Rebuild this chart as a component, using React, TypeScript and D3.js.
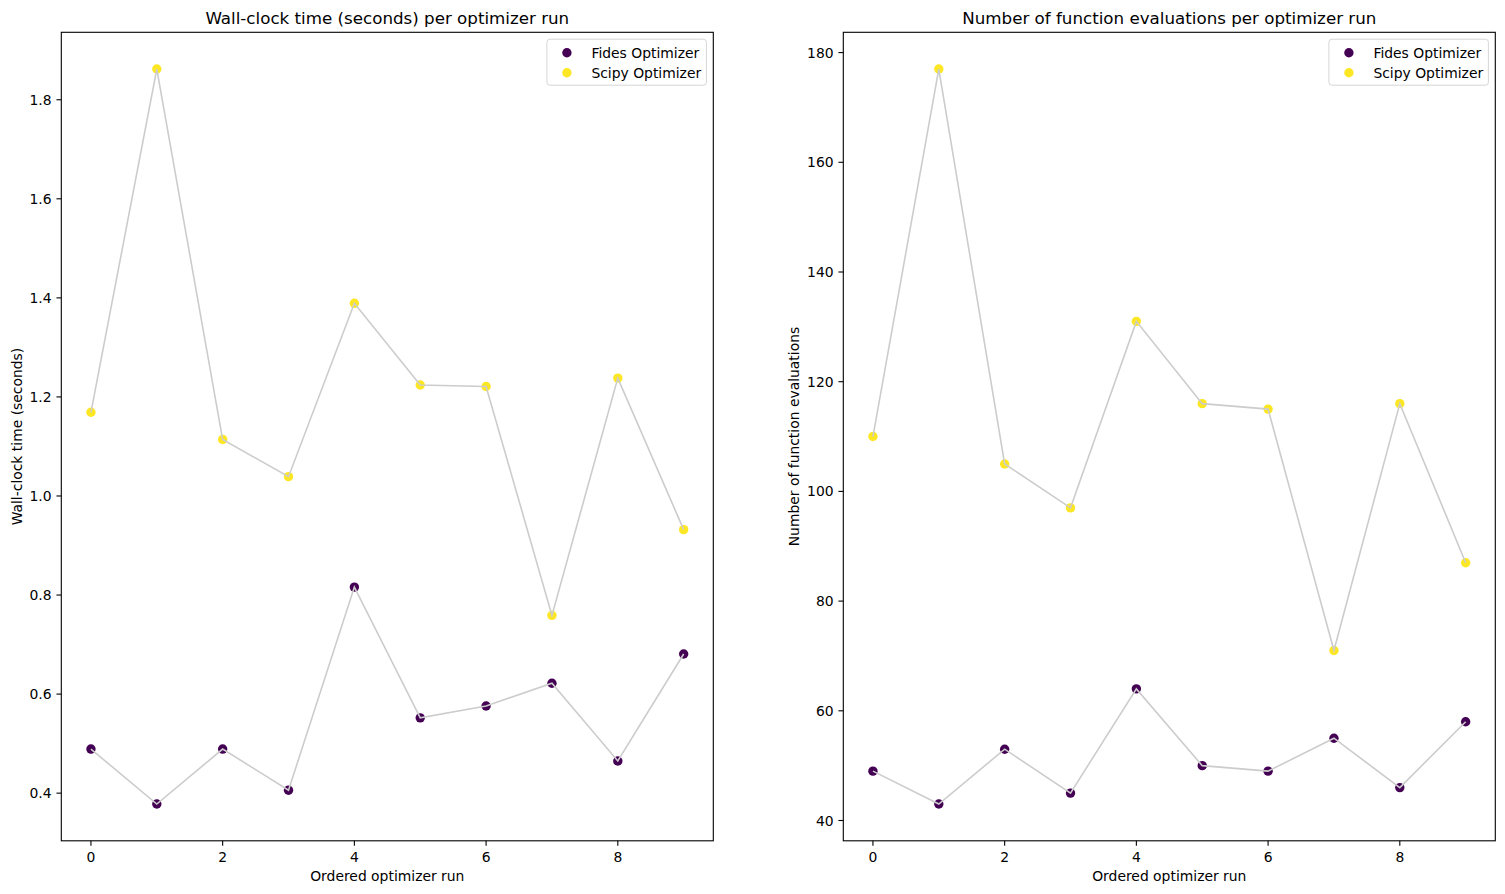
import React, { useEffect, useRef } from "react";
import * as d3 from "d3";

const runs = [0, 1, 2, 3, 4, 5, 6, 7, 8, 9];

const fidesTime = [0.489, 0.378, 0.489, 0.406, 0.816, 0.552, 0.576, 0.622, 0.465, 0.681];
const scipyTime = [1.169, 1.862, 1.114, 1.039, 1.389, 1.224, 1.221, 0.759, 1.238, 0.932];

const fidesEvals = [49, 43, 53, 45, 64, 50, 49, 55, 46, 58];
const scipyEvals = [110, 177, 105, 97, 131, 116, 115, 71, 116, 87];

const xTicks = [0, 2, 4, 6, 8];
const timeTicks = [0.4, 0.6, 0.8, 1.0, 1.2, 1.4, 1.6, 1.8];
const evalTicks = [40, 60, 80, 100, 120, 140, 160, 180];

const seriesNames = ["Fides Optimizer", "Scipy Optimizer"];
const seriesColors = ["#440154", "#fde725"];

const FONT = "DejaVu Sans, sans-serif";

const Chart = () => {
  const svgRef = useRef();

  useEffect(() => {
    const width = 1505;
    const height = 894;
    const svg = d3.select(svgRef.current);
    svg.selectAll("*").remove();
    svg.attr("width", width).attr("height", height).style("font-family", FONT);

    svg.append("rect").attr("width", width).attr("height", height).attr("fill", "white");

    const panels = [
      {
        left: 61.3,
        right: 713.3,
        title: "Wall-clock time (seconds) per optimizer run",
        ylabel: "Wall-clock time (seconds)",
        ylabelX: 16.5,
        series: [fidesTime, scipyTime],
        ticks: timeTicks,
        fmt: d3.format(".1f"),
      },
      {
        left: 843.3,
        right: 1495.3,
        title: "Number of function evaluations per optimizer run",
        ylabel: "Number of function evaluations",
        ylabelX: 793.5,
        series: [fidesEvals, scipyEvals],
        ticks: evalTicks,
        fmt: d3.format("d"),
      },
    ];

    const top = 32.3;
    const bottom = 840.8;
    const tickLen = 4.86;
    const pad = 4.86;
    const dotR = 4.7;

    panels.forEach((p) => {
      const g = svg.append("g");

      // matplotlib-like 5% margins around the data
      const all = p.series.flat();
      const [lo, hi] = d3.extent(all);
      const m = (hi - lo) * 0.05;

      const x = d3.scaleLinear().domain([-0.45, 9.45]).range([p.left, p.right]);
      const y = d3.scaleLinear().domain([lo - m, hi + m]).range([bottom, top]);

      // scatter points first, connecting lines drawn over them
      p.series.forEach((vals, i) => {
        g.append("g")
          .selectAll("circle")
          .data(vals)
          .enter()
          .append("circle")
          .attr("cx", (d, j) => x(runs[j]))
          .attr("cy", (d) => y(d))
          .attr("r", dotR)
          .attr("fill", seriesColors[i]);
      });

      const line = d3
        .line()
        .x((d, j) => x(runs[j]))
        .y((d) => y(d));

      p.series.forEach((vals) => {
        g.append("path")
          .datum(vals)
          .attr("d", line)
          .attr("fill", "none")
          .attr("stroke", "#cccccc")
          .attr("stroke-width", 1.6);
      });

      // frame
      g.append("rect")
        .attr("x", p.left)
        .attr("y", top)
        .attr("width", p.right - p.left)
        .attr("height", bottom - top)
        .attr("fill", "none")
        .attr("stroke", "black")
        .attr("stroke-width", 1.1);

      // x ticks
      xTicks.forEach((t) => {
        g.append("line")
          .attr("x1", x(t))
          .attr("x2", x(t))
          .attr("y1", bottom)
          .attr("y2", bottom + tickLen)
          .attr("stroke", "black")
          .attr("stroke-width", 1.1);
        g.append("text")
          .attr("x", x(t))
          .attr("y", bottom + tickLen + pad + 11)
          .attr("text-anchor", "middle")
          .attr("font-size", 13.9)
          .text(t);
      });

      // y ticks
      p.ticks.forEach((t) => {
        g.append("line")
          .attr("x1", p.left - tickLen)
          .attr("x2", p.left)
          .attr("y1", y(t))
          .attr("y2", y(t))
          .attr("stroke", "black")
          .attr("stroke-width", 1.1);
        g.append("text")
          .attr("x", p.left - tickLen - pad)
          .attr("y", y(t))
          .attr("dy", "0.36em")
          .attr("text-anchor", "end")
          .attr("font-size", 13.9)
          .text(p.fmt(t));
      });

      // titles and labels
      g.append("text")
        .attr("x", (p.left + p.right) / 2)
        .attr("y", top - 8.3)
        .attr("text-anchor", "middle")
        .attr("font-size", 16.7)
        .text(p.title);

      g.append("text")
        .attr("x", (p.left + p.right) / 2)
        .attr("y", 880.5)
        .attr("text-anchor", "middle")
        .attr("font-size", 13.9)
        .text("Ordered optimizer run");

      g.append("text")
        .attr("transform", `translate(${p.ylabelX},${(top + bottom) / 2}) rotate(-90)`)
        .attr("dy", "0.36em")
        .attr("text-anchor", "middle")
        .attr("font-size", 13.9)
        .text(p.ylabel);

      // legend, upper right
      const lw = 159.5;
      const lh = 46;
      const lx = p.right - 6.9 - lw;
      const ly = top + 6.9;
      const leg = g.append("g").attr("transform", `translate(${lx},${ly})`);
      leg
        .append("rect")
        .attr("width", lw)
        .attr("height", lh)
        .attr("rx", 3)
        .attr("fill", "white")
        .attr("fill-opacity", 0.8)
        .attr("stroke", "#d6d6d6")
        .attr("stroke-width", 1);
      seriesNames.forEach((name, i) => {
        const cy = 13.6 + i * 20;
        leg
          .append("circle")
          .attr("cx", 20)
          .attr("cy", cy)
          .attr("r", dotR)
          .attr("fill", seriesColors[i]);
        leg
          .append("text")
          .attr("x", 44.5)
          .attr("y", cy)
          .attr("dy", "0.36em")
          .attr("font-size", 13.9)
          .text(name);
      });
    });
  }, []);

  return <svg ref={svgRef} style={{ position: "absolute", left: 0, top: 0 }}></svg>;
};

export default function App() {
  return <Chart />;
}
